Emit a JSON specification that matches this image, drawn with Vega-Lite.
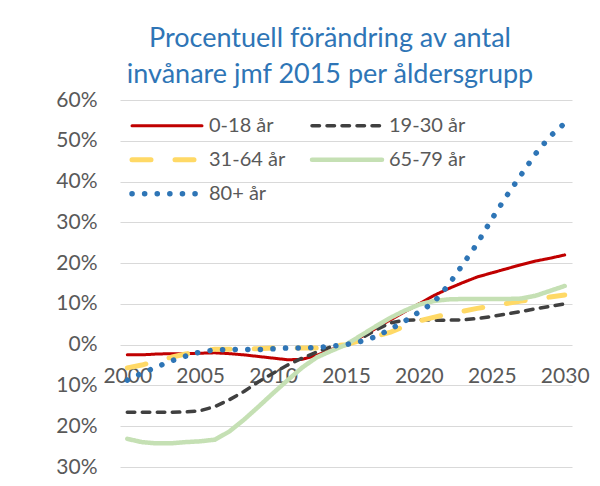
{
  "$schema": "https://vega.github.io/schema/vega-lite/v6.json",
  "width": 452,
  "height": 367,
  "autosize": "none",
  "padding": {"left": 120, "top": 100, "right": 28, "bottom": 19},
  "background": "white",
  "title": {
    "text": ["Procentuell förändring av antal", "invånare jmf 2015 per åldersgrupp"],
    "font": "Lato",
    "fontSize": 27,
    "fontWeight": "normal",
    "color": "#2E75B6",
    "anchor": "middle",
    "dx": -16,
    "offset": 0,
    "lineHeight": 36
  },
  "data": {
    "values": [
      {"year": 2000, "group": "0-18 år", "value": -2.5},
      {"year": 2001, "group": "0-18 år", "value": -2.5},
      {"year": 2002, "group": "0-18 år", "value": -2.3},
      {"year": 2003, "group": "0-18 år", "value": -2.2},
      {"year": 2004, "group": "0-18 år", "value": -2.2},
      {"year": 2005, "group": "0-18 år", "value": -2.1},
      {"year": 2006, "group": "0-18 år", "value": -2.0},
      {"year": 2007, "group": "0-18 år", "value": -2.2},
      {"year": 2008, "group": "0-18 år", "value": -2.5},
      {"year": 2009, "group": "0-18 år", "value": -2.9},
      {"year": 2010, "group": "0-18 år", "value": -3.3},
      {"year": 2011, "group": "0-18 år", "value": -3.7},
      {"year": 2012, "group": "0-18 år", "value": -3.6},
      {"year": 2013, "group": "0-18 år", "value": -2.6},
      {"year": 2014, "group": "0-18 år", "value": -1.2},
      {"year": 2015, "group": "0-18 år", "value": 0},
      {"year": 2016, "group": "0-18 år", "value": 1.8},
      {"year": 2017, "group": "0-18 år", "value": 3.9},
      {"year": 2018, "group": "0-18 år", "value": 6.0},
      {"year": 2019, "group": "0-18 år", "value": 8.0},
      {"year": 2020, "group": "0-18 år", "value": 10.0},
      {"year": 2021, "group": "0-18 år", "value": 12.0},
      {"year": 2022, "group": "0-18 år", "value": 13.7},
      {"year": 2023, "group": "0-18 år", "value": 15.2},
      {"year": 2024, "group": "0-18 år", "value": 16.6},
      {"year": 2025, "group": "0-18 år", "value": 17.6},
      {"year": 2026, "group": "0-18 år", "value": 18.6},
      {"year": 2027, "group": "0-18 år", "value": 19.6},
      {"year": 2028, "group": "0-18 år", "value": 20.5},
      {"year": 2029, "group": "0-18 år", "value": 21.2},
      {"year": 2030, "group": "0-18 år", "value": 22.0},

      {"year": 2000, "group": "19-30 år", "value": -16.6},
      {"year": 2001, "group": "19-30 år", "value": -16.6},
      {"year": 2002, "group": "19-30 år", "value": -16.6},
      {"year": 2003, "group": "19-30 år", "value": -16.6},
      {"year": 2004, "group": "19-30 år", "value": -16.5},
      {"year": 2005, "group": "19-30 år", "value": -16.2},
      {"year": 2006, "group": "19-30 år", "value": -15.2},
      {"year": 2007, "group": "19-30 år", "value": -13.5},
      {"year": 2008, "group": "19-30 år", "value": -11.5},
      {"year": 2009, "group": "19-30 år", "value": -9.1},
      {"year": 2010, "group": "19-30 år", "value": -7.0},
      {"year": 2011, "group": "19-30 år", "value": -5.0},
      {"year": 2012, "group": "19-30 år", "value": -3.3},
      {"year": 2013, "group": "19-30 år", "value": -1.8},
      {"year": 2014, "group": "19-30 år", "value": -0.5},
      {"year": 2015, "group": "19-30 år", "value": 0},
      {"year": 2016, "group": "19-30 år", "value": 1.5},
      {"year": 2017, "group": "19-30 år", "value": 3.5},
      {"year": 2018, "group": "19-30 år", "value": 5.3},
      {"year": 2019, "group": "19-30 år", "value": 6.0},
      {"year": 2020, "group": "19-30 år", "value": 6.1},
      {"year": 2021, "group": "19-30 år", "value": 6.0},
      {"year": 2022, "group": "19-30 år", "value": 6.0},
      {"year": 2023, "group": "19-30 år", "value": 6.1},
      {"year": 2024, "group": "19-30 år", "value": 6.4},
      {"year": 2025, "group": "19-30 år", "value": 6.9},
      {"year": 2026, "group": "19-30 år", "value": 7.5},
      {"year": 2027, "group": "19-30 år", "value": 8.1},
      {"year": 2028, "group": "19-30 år", "value": 8.8},
      {"year": 2029, "group": "19-30 år", "value": 9.4},
      {"year": 2030, "group": "19-30 år", "value": 10.0},

      {"year": 2000, "group": "31-64 år", "value": -5.7},
      {"year": 2001, "group": "31-64 år", "value": -5.0},
      {"year": 2002, "group": "31-64 år", "value": -4.0},
      {"year": 2003, "group": "31-64 år", "value": -3.1},
      {"year": 2004, "group": "31-64 år", "value": -2.3},
      {"year": 2005, "group": "31-64 år", "value": -1.6},
      {"year": 2006, "group": "31-64 år", "value": -1.1},
      {"year": 2007, "group": "31-64 år", "value": -1.1},
      {"year": 2008, "group": "31-64 år", "value": -1.0},
      {"year": 2009, "group": "31-64 år", "value": -1.0},
      {"year": 2010, "group": "31-64 år", "value": -0.8},
      {"year": 2011, "group": "31-64 år", "value": -0.8},
      {"year": 2012, "group": "31-64 år", "value": -0.8},
      {"year": 2013, "group": "31-64 år", "value": -0.8},
      {"year": 2014, "group": "31-64 år", "value": -0.4},
      {"year": 2015, "group": "31-64 år", "value": 0},
      {"year": 2016, "group": "31-64 år", "value": 1.0},
      {"year": 2017, "group": "31-64 år", "value": 2.0},
      {"year": 2018, "group": "31-64 år", "value": 3.0},
      {"year": 2019, "group": "31-64 år", "value": 4.5},
      {"year": 2020, "group": "31-64 år", "value": 5.8},
      {"year": 2021, "group": "31-64 år", "value": 6.7},
      {"year": 2022, "group": "31-64 år", "value": 7.5},
      {"year": 2023, "group": "31-64 år", "value": 8.2},
      {"year": 2024, "group": "31-64 år", "value": 8.9},
      {"year": 2025, "group": "31-64 år", "value": 9.5},
      {"year": 2026, "group": "31-64 år", "value": 10.1},
      {"year": 2027, "group": "31-64 år", "value": 10.7},
      {"year": 2028, "group": "31-64 år", "value": 11.2},
      {"year": 2029, "group": "31-64 år", "value": 11.7},
      {"year": 2030, "group": "31-64 år", "value": 12.2},

      {"year": 2000, "group": "65-79 år", "value": -23.1},
      {"year": 2001, "group": "65-79 år", "value": -23.9},
      {"year": 2002, "group": "65-79 år", "value": -24.2},
      {"year": 2003, "group": "65-79 år", "value": -24.2},
      {"year": 2004, "group": "65-79 år", "value": -23.9},
      {"year": 2005, "group": "65-79 år", "value": -23.7},
      {"year": 2006, "group": "65-79 år", "value": -23.3},
      {"year": 2007, "group": "65-79 år", "value": -21.3},
      {"year": 2008, "group": "65-79 år", "value": -18.4},
      {"year": 2009, "group": "65-79 år", "value": -15.2},
      {"year": 2010, "group": "65-79 år", "value": -11.9},
      {"year": 2011, "group": "65-79 år", "value": -8.7},
      {"year": 2012, "group": "65-79 år", "value": -5.6},
      {"year": 2013, "group": "65-79 år", "value": -3.1},
      {"year": 2014, "group": "65-79 år", "value": -1.5},
      {"year": 2015, "group": "65-79 år", "value": 0},
      {"year": 2016, "group": "65-79 år", "value": 2.2},
      {"year": 2017, "group": "65-79 år", "value": 4.4},
      {"year": 2018, "group": "65-79 år", "value": 6.5},
      {"year": 2019, "group": "65-79 år", "value": 8.3},
      {"year": 2020, "group": "65-79 år", "value": 9.8},
      {"year": 2021, "group": "65-79 år", "value": 10.7},
      {"year": 2022, "group": "65-79 år", "value": 11.1},
      {"year": 2023, "group": "65-79 år", "value": 11.2},
      {"year": 2024, "group": "65-79 år", "value": 11.2},
      {"year": 2025, "group": "65-79 år", "value": 11.2},
      {"year": 2026, "group": "65-79 år", "value": 11.2},
      {"year": 2027, "group": "65-79 år", "value": 11.3},
      {"year": 2028, "group": "65-79 år", "value": 12.0},
      {"year": 2029, "group": "65-79 år", "value": 13.2},
      {"year": 2030, "group": "65-79 år", "value": 14.4},

      {"year": 2000, "group": "80+ år", "value": -8.7},
      {"year": 2001, "group": "80+ år", "value": -7.0},
      {"year": 2002, "group": "80+ år", "value": -5.5},
      {"year": 2003, "group": "80+ år", "value": -4.0},
      {"year": 2004, "group": "80+ år", "value": -2.8},
      {"year": 2005, "group": "80+ år", "value": -1.8},
      {"year": 2006, "group": "80+ år", "value": -1.3},
      {"year": 2007, "group": "80+ år", "value": -1.2},
      {"year": 2008, "group": "80+ år", "value": -1.2},
      {"year": 2009, "group": "80+ år", "value": -1.2},
      {"year": 2010, "group": "80+ år", "value": -1.0},
      {"year": 2011, "group": "80+ år", "value": -0.8},
      {"year": 2012, "group": "80+ år", "value": -0.8},
      {"year": 2013, "group": "80+ år", "value": -0.7},
      {"year": 2014, "group": "80+ år", "value": -0.4},
      {"year": 2015, "group": "80+ år", "value": 0},
      {"year": 2016, "group": "80+ år", "value": 0.8},
      {"year": 2017, "group": "80+ år", "value": 1.9},
      {"year": 2018, "group": "80+ år", "value": 3.7},
      {"year": 2019, "group": "80+ år", "value": 5.7},
      {"year": 2020, "group": "80+ år", "value": 8.0},
      {"year": 2021, "group": "80+ år", "value": 10.3},
      {"year": 2022, "group": "80+ år", "value": 14.5},
      {"year": 2023, "group": "80+ år", "value": 19.6},
      {"year": 2024, "group": "80+ år", "value": 24.8},
      {"year": 2025, "group": "80+ år", "value": 30.8},
      {"year": 2026, "group": "80+ år", "value": 36.4},
      {"year": 2027, "group": "80+ år", "value": 41.6},
      {"year": 2028, "group": "80+ år", "value": 46.8},
      {"year": 2029, "group": "80+ år", "value": 51.1},
      {"year": 2030, "group": "80+ år", "value": 54.3}
    ]
  },
  "mark": {"type": "line", "strokeCap": "round", "strokeJoin": "round"},
  "encoding": {
    "x": {
      "field": "year",
      "type": "quantitative",
      "scale": {"domain": [1999.5, 2030.5], "nice": false, "zero": false},
      "axis": {
        "values": [2000, 2005, 2010, 2015, 2020, 2025, 2030],
        "format": "d",
        "domain": false,
        "ticks": false,
        "tickSize": 0,
        "grid": false,
        "offset": -122.3,
        "labelPadding": 21,
        "labelFont": "Lato",
        "labelFontSize": 21,
        "labelColor": "#595959",
        "labelFlush": false,
        "title": null
      }
    },
    "y": {
      "field": "value",
      "type": "quantitative",
      "scale": {"domain": [-30, 60], "nice": false},
      "axis": {
        "values": [-30, -20, -10, 0, 10, 20, 30, 40, 50, 60],
        "labelExpr": "abs(datum.value) + '%'",
        "domain": false,
        "ticks": false,
        "tickSize": 0,
        "labelPadding": 23,
        "grid": true,
        "gridColor": "#D9D9D9",
        "gridWidth": 1,
        "labelFont": "Lato",
        "labelFontSize": 21,
        "labelColor": "#595959",
        "title": null
      }
    },
    "color": {
      "field": "group",
      "type": "nominal",
      "scale": {
        "domain": ["0-18 år", "19-30 år", "31-64 år", "65-79 år", "80+ år"],
        "range": ["#C00000", "#404040", "#FFD966", "#C5E0B4", "#2E75B6"]
      },
      "legend": {
        "title": null,
        "encode": {"symbols": {"update": {"strokeCap": {"value": "round"}}}}
      }
    },
    "strokeDash": {
      "field": "group",
      "type": "nominal",
      "scale": {
        "domain": ["0-18 år", "19-30 år", "31-64 år", "65-79 år", "80+ år"],
        "range": [[1, 0], [7.5, 7.5], [19, 24], [1, 0], [0.1, 12.5]]
      },
      "legend": {"title": null}
    },
    "strokeWidth": {
      "field": "group",
      "type": "nominal",
      "scale": {
        "type": "ordinal",
        "domain": ["0-18 år", "19-30 år", "31-64 år", "65-79 år", "80+ år"],
        "range": [3, 3.5, 5, 4.5, 5.5]
      },
      "legend": {"title": null}
    }
  },
  "config": {
    "view": {"stroke": null},
    "legend": {
      "orient": "none",
      "legendX": -1,
      "legendY": 12.7,
      "direction": "horizontal",
      "columns": 2,
      "symbolType": "M0,0H7",
      "symbolSize": 400,
      "clipHeight": 26,
      "labelFont": "Lato",
      "labelFontSize": 20,
      "labelColor": "#595959",
      "labelOffset": 64,
      "rowPadding": 8,
      "columnPadding": 13,
      "padding": 0,
      "symbolLimit": 0
    }
  }
}
